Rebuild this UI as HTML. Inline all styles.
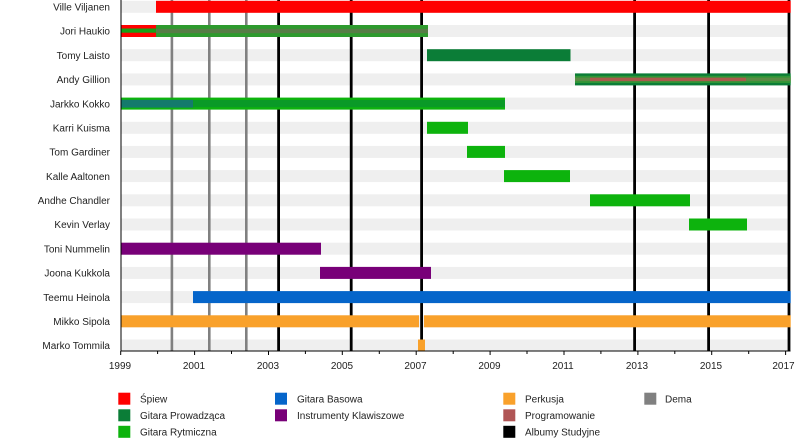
<!DOCTYPE html>
<html><head><meta charset="utf-8"><style>
html,body{margin:0;padding:0;background:#fff;}
svg{display:block;}
text{font-family:"Liberation Sans",Arial,sans-serif;font-size:10px;fill:#222;}
</style></head><body>
<svg width="800" height="440" viewBox="0 0 800 440" xmlns="http://www.w3.org/2000/svg">
<rect width="800" height="440" fill="#fff"/>
<!-- background bands -->
<g fill="#efefef">
<rect x="121" y="0.8" width="669" height="12"/>
<rect x="121" y="25" width="669" height="12"/>
<rect x="121" y="49.2" width="669" height="12"/>
<rect x="121" y="73.4" width="669" height="12"/>
<rect x="121" y="97.6" width="669" height="12"/>
<rect x="121" y="121.8" width="669" height="12"/>
<rect x="121" y="145.9" width="669" height="12"/>
<rect x="121" y="170.1" width="669" height="12"/>
<rect x="121" y="194.3" width="669" height="12"/>
<rect x="121" y="218.5" width="669" height="12"/>
<rect x="121" y="242.7" width="669" height="12"/>
<rect x="121" y="266.9" width="669" height="12"/>
<rect x="121" y="291.1" width="669" height="12"/>
<rect x="121" y="315.3" width="669" height="12"/>
<rect x="121" y="339.5" width="669" height="12"/>
</g>
<!-- demo lines -->
<g fill="#808080">
<rect x="170.6" y="0" width="2.6" height="351"/>
<rect x="208" y="0" width="2.6" height="351"/>
<rect x="245" y="0" width="2.6" height="351"/>
</g>
<!-- album lines -->
<g fill="#000">
<rect x="277.2" y="0" width="2.8" height="351"/>
<rect x="349.8" y="0" width="2.8" height="351"/>
<rect x="420.2" y="0" width="2.8" height="351"/>
<rect x="633.2" y="0" width="2.8" height="351"/>
<rect x="707.2" y="0" width="2.8" height="351"/>
<rect x="787.6" y="0" width="2.8" height="351"/>
</g>
<!-- bars -->
<!-- Ville -->
<rect x="156" y="0.8" width="634.7" height="12" fill="#ff0000"/>
<!-- Jori -->
<rect x="121" y="25" width="35" height="12" fill="#ff0000"/>
<rect x="121" y="28.5" width="35" height="4.2" fill="#16a016"/>
<rect x="156" y="25" width="272" height="12" fill="#2d9a2d"/>
<rect x="156" y="28.8" width="272" height="4.4" fill="#567c46"/>
<!-- Tomy -->
<rect x="427" y="49.2" width="143.5" height="12" fill="#0b7d37"/>
<!-- Andy -->
<rect x="575" y="73.4" width="215.7" height="12" fill="#0b7d37"/>
<rect x="575" y="75.8" width="215.7" height="7.2" fill="#2e9636"/>
<rect x="590" y="77.6" width="156" height="3.6" fill="#a85a4c"/>
<rect x="575" y="77.6" width="15" height="3.6" fill="#5a8a44"/>
<rect x="746" y="77.6" width="44.7" height="3.6" fill="#5a8a44"/>
<!-- Jarkko -->
<rect x="121" y="97.6" width="384" height="12" fill="#0db30d"/>
<rect x="121" y="99.8" width="72" height="7.8" fill="#147a6c"/>
<rect x="193" y="100" width="312" height="7.2" fill="#0a9a27"/>
<!-- Karri -->
<rect x="427" y="121.8" width="41" height="12" fill="#0db30d"/>
<!-- Tom -->
<rect x="467" y="145.9" width="38" height="12" fill="#0db30d"/>
<!-- Kalle -->
<rect x="504" y="170.1" width="66" height="12" fill="#0db30d"/>
<!-- Andhe -->
<rect x="590" y="194.3" width="100" height="12" fill="#0db30d"/>
<!-- Kevin -->
<rect x="689" y="218.5" width="58" height="12" fill="#0db30d"/>
<!-- Toni -->
<rect x="121" y="242.7" width="200" height="12" fill="#780078"/>
<!-- Joona -->
<rect x="320" y="266.9" width="111" height="12" fill="#780078"/>
<!-- Teemu -->
<rect x="193" y="291.1" width="597.7" height="12" fill="#0565ca"/>
<!-- Mikko -->
<rect x="121" y="315.3" width="298" height="12" fill="#f9a12b"/>
<rect x="424" y="315.3" width="366.7" height="12" fill="#f9a12b"/>
<!-- Marko -->
<rect x="418" y="339.5" width="7" height="12" fill="#f9a12b"/>
<!-- axes -->
<rect x="120.5" y="0" width="1" height="351.5" fill="#000"/>
<rect x="120.5" y="350.5" width="670" height="1" fill="#000"/>
<g fill="#000">
<rect x="120.2" y="351" width="1" height="4"/>
<rect x="157.1" y="351" width="1" height="3"/>
<rect x="194.1" y="351" width="1" height="4"/>
<rect x="231" y="351" width="1" height="3"/>
<rect x="268" y="351" width="1" height="4"/>
<rect x="304.9" y="351" width="1" height="3"/>
<rect x="341.8" y="351" width="1" height="4"/>
<rect x="378.8" y="351" width="1" height="3"/>
<rect x="415.7" y="351" width="1" height="4"/>
<rect x="452.7" y="351" width="1" height="3"/>
<rect x="489.6" y="351" width="1" height="4"/>
<rect x="526.5" y="351" width="1" height="3"/>
<rect x="563.5" y="351" width="1" height="4"/>
<rect x="600.4" y="351" width="1" height="3"/>
<rect x="637.4" y="351" width="1" height="4"/>
<rect x="674.3" y="351" width="1" height="3"/>
<rect x="711.2" y="351" width="1" height="4"/>
<rect x="748.2" y="351" width="1" height="3"/>
<rect x="785.1" y="351" width="1" height="4"/>
</g>
<g text-anchor="middle">
<text x="120" y="369">1999</text>
<text x="194" y="369">2001</text>
<text x="268" y="369">2003</text>
<text x="342" y="369">2005</text>
<text x="415.5" y="369">2007</text>
<text x="489.5" y="369">2009</text>
<text x="563" y="369">2011</text>
<text x="637" y="369">2013</text>
<text x="711" y="369">2015</text>
<text x="783.5" y="369">2017</text>
</g>
<!-- row labels -->
<g text-anchor="end">
<text x="110" y="10.5">Ville Viljanen</text>
<text x="110" y="34.7">Jori Haukio</text>
<text x="110" y="58.9">Tomy Laisto</text>
<text x="110" y="83.1">Andy Gillion</text>
<text x="110" y="107.3">Jarkko Kokko</text>
<text x="110" y="131.5">Karri Kuisma</text>
<text x="110" y="155.6">Tom Gardiner</text>
<text x="110" y="179.8">Kalle Aaltonen</text>
<text x="110" y="204">Andhe Chandler</text>
<text x="110" y="228.2">Kevin Verlay</text>
<text x="110" y="252.4">Toni Nummelin</text>
<text x="110" y="276.6">Joona Kukkola</text>
<text x="110" y="300.8">Teemu Heinola</text>
<text x="110" y="325">Mikko Sipola</text>
<text x="110" y="349.2">Marko Tommila</text>
</g>
<!-- legend -->
<rect x="118.3" y="392.7" width="12" height="12" fill="#ff0000"/>
<rect x="118.3" y="409.3" width="12" height="12" fill="#0b7d37"/>
<rect x="118.3" y="425.8" width="12" height="12" fill="#0db30d"/>
<rect x="275" y="392.7" width="12" height="12" fill="#0565ca"/>
<rect x="275" y="409.3" width="12" height="12" fill="#780078"/>
<rect x="503.3" y="392.7" width="12" height="12" fill="#f9a12b"/>
<rect x="503.3" y="409.3" width="12" height="12" fill="#b05555"/>
<rect x="503.3" y="425.8" width="12" height="12" fill="#000"/>
<rect x="644.3" y="392.7" width="12" height="12" fill="#808080"/>
<text x="140" y="402.5">Śpiew</text>
<text x="140" y="419">Gitara Prowadząca</text>
<text x="140" y="435.5">Gitara Rytmiczna</text>
<text x="297" y="402.5">Gitara Basowa</text>
<text x="297" y="419">Instrumenty Klawiszowe</text>
<text x="525" y="402.5">Perkusja</text>
<text x="525" y="419">Programowanie</text>
<text x="525" y="435.5">Albumy Studyjne</text>
<text x="665" y="402.5">Dema</text>
</svg>
</body></html>
